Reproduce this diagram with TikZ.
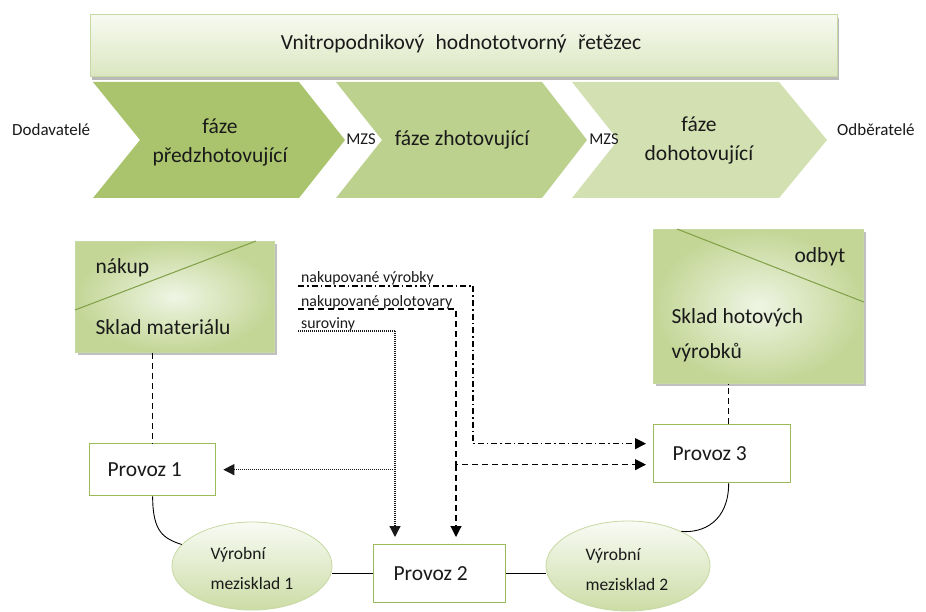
\documentclass[tikz,border=0pt]{standalone}
\usepackage{fontspec}
\setmainfont{Carlito}
\usetikzlibrary{arrows.meta,shapes.geometric,calc,shadows}
\definecolor{gborder}{HTML}{9BBB59}
\definecolor{gline}{HTML}{7F9F45}
\definecolor{lborder}{HTML}{C7D9A3}
\definecolor{chevA}{HTML}{A9C46C}
\definecolor{chevB}{HTML}{BDD18F}
\definecolor{chevC}{HTML}{D3E1B2}
\definecolor{boxin}{HTML}{EFF5E4}
\definecolor{boxout}{HTML}{C3D696}
\definecolor{txt}{HTML}{1A1A1A}
\tikzset{
  big/.style={font=\fontsize{21.5}{29}\selectfont, text=txt},
  mid/.style={font=\fontsize{17.5}{30}\selectfont, text=txt},
  lbl/.style={font=\fontsize{15.8}{18}\selectfont, text=txt, inner sep=0pt},
  sml/.style={font=\fontsize{17}{20}\selectfont, text=txt, inner sep=0pt},
  provoz/.style={draw=gborder, line width=1.3pt, fill=white, inner sep=0pt},
  sklad/.style={draw=lborder, line width=0.8pt, inner color=boxin, outer color=boxout, inner sep=0pt,
    drop shadow={shadow xshift=3pt, shadow yshift=-3pt, fill=gray!70, opacity=0.7}},
  mezi/.style={ellipse, draw=lborder, line width=0.8pt, top color=white!60!boxin, bottom color=boxout!85, inner sep=0pt},
  conn/.style={line width=0.9pt, black},
  dashln/.style={line width=1.1pt, dash pattern=on 6pt off 4pt},
  dashdotln/.style={line width=1.1pt, dash pattern=on 6pt off 3pt on 1.5pt off 3pt},
  dotln/.style={line width=1.2pt, dash pattern=on 1.1pt off 0.9pt, black!90},
  tip/.style={-{Triangle[length=11pt,width=11pt]}, shorten >=7pt},
}
\begin{document}
\begin{tikzpicture}[x=1pt,y=-1pt]
\useasboundingbox[fill=white] (0,0) rectangle (926,612);

% banner
\fill[gray!55] (92,18) rectangle (839,80);
\node[draw=lborder, line width=0.8pt, top color=white!50!boxin, bottom color=boxout!60, minimum width=747pt, minimum height=62pt, anchor=north west, inner sep=0pt] (banner) at (90,14) {};
\node[big, anchor=center] (title) at (461,44) {Vnitropodnikový\hspace{0.3em} hodnototvorný\hspace{0.3em} řetězec};

% chevrons
\fill[chevA] (93,82) -- (299,82) -- (345,140) -- (299,198) -- (93,198) -- (140,140) -- cycle;
\fill[chevB] (336,82) -- (542,82) -- (587,140) -- (542,198) -- (336,198) -- (382,140) -- cycle;
\fill[chevC] (572,82) -- (779,82) -- (827,140) -- (779,198) -- (572,198) -- (618,140) -- cycle;
\node[big, align=center] (ph1) at (220,142) {fáze\\předzhotovující};
\node[big] (ph2) at (462,140) {fáze zhotovující};
\node[big, align=center] (ph3) at (699,140) {fáze\\dohotovující};
\node[sml, anchor=west] (dod) at (12,130) {Dodavatelé};
\node[sml, anchor=west] (odb) at (837,130) {Odběratelé};
\node[lbl, font=\fontsize{16.5}{18}\selectfont] (mzs1) at (361,139) {MZS};
\node[lbl, font=\fontsize{16.5}{18}\selectfont] (mzs2) at (604,139) {MZS};

% warehouses
\node[sklad, minimum width=199pt, minimum height=111pt, anchor=north west] (sm) at (75,241) {};
\draw[gline, line width=1pt] ($(sm.north west)+(0,69)$) -- ($(sm.north west)+(181,0)$);
\node[big, anchor=west] (nakup) at (92,268) {nákup};
\node[big, anchor=west] (smt) at (92,327) {Sklad materiálu};

\node[sklad, minimum width=210pt, minimum height=154pt, anchor=north west] (sh) at (653,229) {};
\draw[gline, line width=1pt] ($(sh.north west)+(24,0)$) -- ($(sh.north east)+(0,73)$);
\node[big, anchor=east] (odbyt) at (849,257) {odbyt};
\node[big, anchor=west, align=left] (sht) at (668,335) {Sklad hotových\\[6pt]výrobků};

% operations
\node[provoz, minimum width=126pt, minimum height=52pt, anchor=north west] (p1) at (89,443) {};
\node[big, anchor=west] at ($(p1.west)+(15,0)$) {Provoz 1};
\node[provoz, minimum width=132pt, minimum height=58pt, anchor=north west] (p2) at (373,544) {};
\node[big, anchor=west] at ($(p2.west)+(17,0)$) {Provoz 2};
\node[provoz, minimum width=137pt, minimum height=58pt, anchor=north west] (p3) at (653,424) {};
\node[big, anchor=west] at ($(p3.west)+(16,0)$) {Provoz 3};

\node[mezi, minimum width=160pt, minimum height=88pt] (e1) at (252,566) {};
\node[mid, anchor=west, align=left] at (207,568) {Výrobní\\mezisklad 1};
\node[mezi, minimum width=164pt, minimum height=90pt] (e2) at (628,566) {};
\node[mid, anchor=west, align=left] at (582,569) {Výrobní\\mezisklad 2};

% solid connectors
\draw[conn] (p1.south) .. controls +(0,36) and +(-18,-6) .. (e1.163);
\draw[conn] (e1.east |- p2.west) -- (p2.west);
\draw[conn] (p2.east) -- (e2.west |- p2.east);
\draw[conn] ($(p3.south)+(6.5,0)$) .. controls +(0,38) and +(22,2) .. (e2.33);

% dashed links from warehouses
\draw[dashln] (sm.south -| p1.north) -- (p1.north);
\draw[dashln] ($(p3.north)+(6.5,0)$) coordinate (p3n) -- (p3n |- sh.south);

% material labels
\node[lbl, anchor=base west] (l1) at (301,283) {nakupované výrobky};
\node[lbl, anchor=base west] (l2) at (301,306) {nakupované polotovary};
\node[lbl, anchor=base west] (l3) at (301,328) {suroviny};
\coordinate (a1) at (473,286);
\coordinate (a2) at (456,309);
\coordinate (a3) at (395,331);
\coordinate (t3a) at ($(p3.west)+(0,-10)$);
\coordinate (t3b) at ($(p3.west)+(0,11)$);

\draw[dashdotln, tip] ($(l1.base west)+(-3,3)$) -- (a1) |- (t3a);
\draw[dashln, tip] ($(l2.base west)+(-3,3)$) -- (a2) |- (t3b);
\draw[dashln, tip] (a2 |- t3b) -- (a2 |- p2.north);
\draw[dotln] ($(l3.base west)+(-3,3)$) -- (a3);
\draw[dotln, tip] (a3) -- (a3 |- p2.north);
\draw[dotln, tip] (a3 |- p1.east) -- (p1.east);
\end{tikzpicture}
\end{document}
